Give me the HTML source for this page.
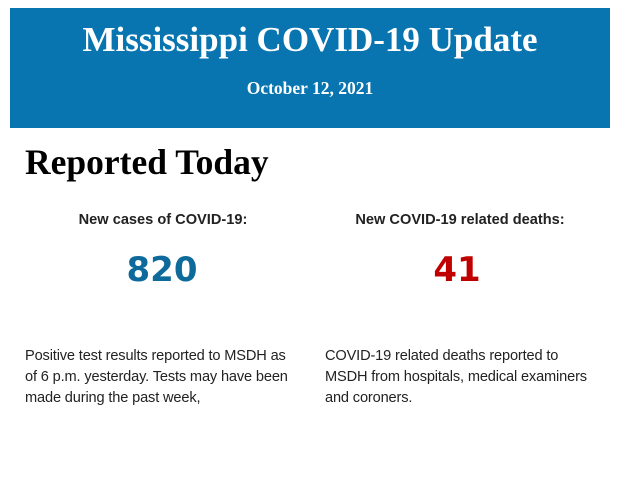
<!DOCTYPE html>
<html><head><style>
body{margin:0;width:620px;height:483px;background:#fff;position:relative;overflow:hidden;font-family:"Liberation Sans",Arial,sans-serif}
.hdr{position:absolute;left:10px;top:8px;width:600px;height:120px;background:#0875b0;color:#fff;text-align:center;font-family:"Liberation Serif",Georgia,serif;font-weight:bold}
.t{position:absolute;left:0;right:0;top:12px;font-size:35px;line-height:40px}
.d{position:absolute;left:0;right:0;top:69px;font-size:17.5px;line-height:22px}
.h{position:absolute;left:25px;top:141px;font-family:"Liberation Serif",Georgia,serif;font-weight:bold;font-size:35.5px;line-height:42px;color:#000}
.lab{position:absolute;top:212px;width:300px;text-align:center;font-weight:bold;font-size:14.6px;color:#222}
.num{position:absolute;top:248px;width:300px;text-align:center;font-family:"DejaVu Sans",sans-serif;font-weight:bold;font-size:34px;line-height:44px}
.p{position:absolute;top:346px;width:280px;font-size:14.6px;letter-spacing:-0.15px;line-height:21px;color:#222}
</style></head><body>
<div class="hdr"><div class="t">Mississippi COVID-19 Update</div><div class="d">October 12, 2021</div></div>
<div class="h">Reported Today</div>
<div class="lab" style="left:13px">New cases of COVID-19:</div>
<div class="lab" style="left:310px">New COVID-19 related deaths:</div>
<div class="num" style="left:12px;color:#0e6a9a">820</div>
<div class="num" style="left:307px;color:#c00000">41</div>
<div class="p" style="left:25px">Positive test results reported to MSDH as<br>of 6 p.m. yesterday. Tests may have been<br>made during the past week,</div>
<div class="p" style="left:325px">COVID-19 related deaths reported to<br>MSDH from hospitals, medical examiners<br>and coroners.</div>
</body></html>
